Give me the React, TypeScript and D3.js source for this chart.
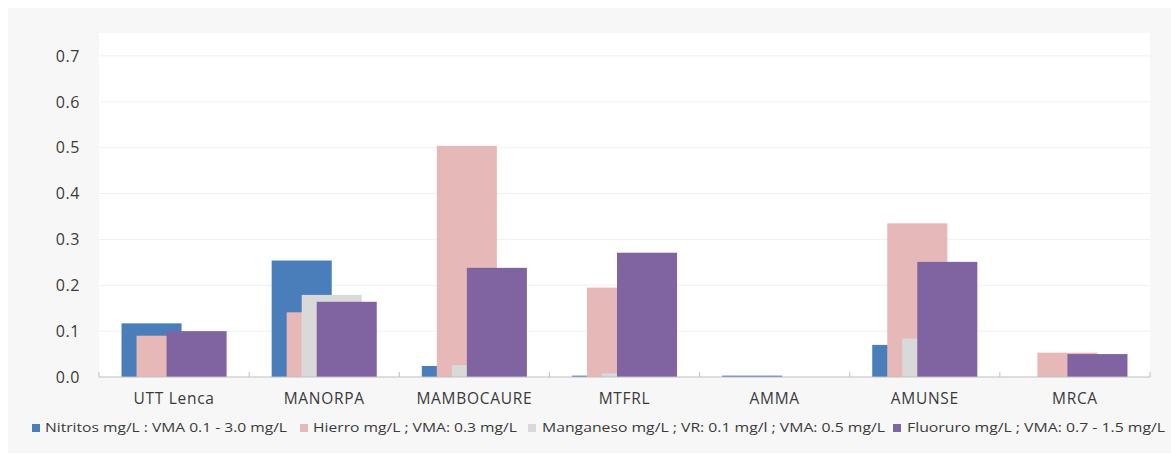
import React from "react";
import * as d3 from "d3";

const categories = ["UTT Lenca", "MANORPA", "MAMBOCAURE", "MTFRL", "AMMA", "AMUNSE", "MRCA"];
const seriesNames = [
  "Nitritos mg/L : VMA 0.1 - 3.0 mg/L",
  "Hierro mg/L ; VMA: 0.3 mg/L",
  "Manganeso mg/L ; VR: 0.1 mg/l ; VMA: 0.5 mg/L",
  "Fluoruro mg/L ; VMA: 0.7 - 1.5 mg/L",
];
const nitritos = [0.117, 0.254, 0.024, 0.003, 0.003, 0.07, 0];
const hierro = [0.09, 0.141, 0.504, 0.195, 0, 0.335, 0.053];
const manganeso = [0, 0.179, 0.026, 0.008, 0, 0.084, 0];
const fluoruro = [0.1, 0.164, 0.238, 0.271, 0, 0.251, 0.05];
const yTicks = [0, 0.1, 0.2, 0.3, 0.4, 0.5, 0.6, 0.7];
const colors = ["#4a7ebb", "#e6b9b8", "#d9d9d9", "#8064a2"];

const W = 1171;
const H = 455;
const plot = { left: 99, right: 1150, top: 33, bottom: 377 };

export default function App() {
  const series = [nitritos, hierro, manganeso, fluoruro];
  const x = d3.scaleBand<string>().domain(categories).range([plot.left, plot.right]).padding(0);
  const bw = x.bandwidth();
  const y = d3.scaleLinear().domain([0, 0.75]).range([plot.bottom, plot.top]);
  const offset = d3.scaleLinear().domain([0, 1]).range([-0.35 * bw, -0.25 * bw]);
  const barW = 0.4 * bw;
  const font = "'Open Sans', 'DejaVu Sans', sans-serif";
  const textColor = "#3a3a3a";
  const legendPos = [
    { sq: 32, tx: 45, len: 242 },
    { sq: 300, tx: 313, len: 204 },
    { sq: 528, tx: 542, len: 343 },
    { sq: 893, tx: 907, len: 258 },
  ];
  return (
    <>
      <style>{`body{margin:0;}`}</style>
      <svg width={W} height={H} style={{ display: "block", background: "#ffffff" }}>
        <rect x={8} y={8} width={W - 8} height={H - 10} fill="#f7f7f7" />
        <rect x={plot.left} y={plot.top} width={plot.right - plot.left} height={plot.bottom - plot.top} fill="#ffffff" />
        {yTicks.map((t) => (
          <g key={t}>
            {t > 0 && (
              <line x1={plot.left} x2={plot.right} y1={y(t)} y2={y(t)} stroke="#f0f0f0" strokeWidth={1} />
            )}
            <text x={80} y={y(t)} dy="0.36em" textAnchor="end" fontFamily={font} fontSize={16} letterSpacing={0.6} fill={textColor}>
              {t.toFixed(1)}
            </text>
          </g>
        ))}
        {series.map((vals, si) =>
          vals.map((v, ci) => {
            const cx = (x(categories[ci]) as number) + bw / 2;
            const left = cx + offset(si);
            return (
              <rect
                key={`${si}-${ci}`}
                x={left}
                y={y(v)}
                width={barW}
                height={plot.bottom - y(v)}
                fill={colors[si]}
              />
            );
          })
        )}
        <line x1={plot.left} x2={plot.right} y1={plot.bottom} y2={plot.bottom} stroke="#bfbfbf" strokeWidth={1} />
        {categories.map((c, i) => (
          <line
            key={"t" + i}
            x1={x(c) as number}
            x2={x(c) as number}
            y1={plot.bottom - 5}
            y2={plot.bottom}
            stroke="#bfbfbf"
          />
        ))}
        <line x1={plot.right} x2={plot.right} y1={plot.bottom - 5} y2={plot.bottom} stroke="#bfbfbf" />
        {categories.map((c) => (
          <text
            key={c}
            x={(x(c) as number) + bw / 2}
            y={404}
            textAnchor="middle"
            fontFamily={font}
            fontSize={15.5}
            letterSpacing={0.7}
            fill={textColor}
          >
            {c}
          </text>
        ))}
        {seriesNames.map((n, i) => (
          <g key={n}>
            <rect x={legendPos[i].sq} y={424} width={8} height={8} fill={colors[i]} />
            <text
              x={legendPos[i].tx}
              y={432}
              fontFamily={font}
              fontSize={12.8}
              fill={textColor}
              textLength={legendPos[i].len}
              lengthAdjust="spacingAndGlyphs"
            >
              {n}
            </text>
          </g>
        ))}
      </svg>
    </>
  );
}
